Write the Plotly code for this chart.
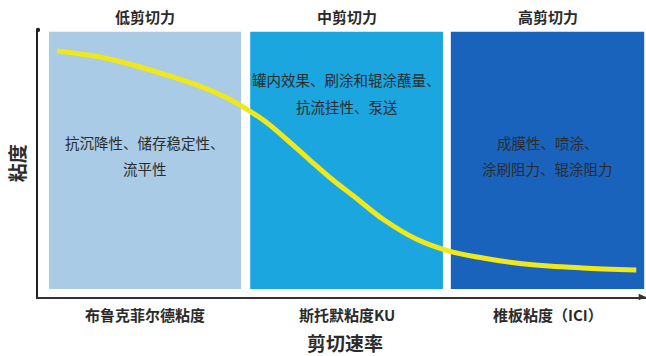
import plotly.graph_objects as go

# Shear-rate zones (x in relative shear-rate units 0-100)
zone_names = ["低剪切力", "中剪切力", "高剪切力"]
zone_start = [1.8, 34.9, 67.9]
zone_end = [33.4, 66.6, 99.7]
zone_colors = ["#a9cbe6", "#1ca6e0", "#1a63bd"]
zone_methods = ["布鲁克菲尔德粘度", "斯托默粘度KU", "椎板粘度（ICI）"]
zone_props_line1 = ["抗沉降性、储存稳定性、", "罐内效果、刷涂和辊涂蘸量、", "成膜性、喷涂、"]
zone_props_line2 = ["流平性", "抗流挂性、泵送", "涂刷阻力、辊涂阻力"]

# Viscosity curve (relative units 0-100)
shear_rate = [3.1, 10.2, 15.6, 21.2, 26.6, 30.8, 33.7, 37.7, 41.0, 44.7, 48.5,
              52.3, 56.7, 62.2, 67.6, 73.2, 78.6, 84.0, 89.6, 98.4]
viscosity = [92.1, 89.9, 86.9, 83.1, 79.0, 74.9, 71.2, 65.2, 58.8, 51.3, 43.8,
             37.1, 29.2, 21.7, 17.2, 14.6, 12.7, 11.6, 10.9, 10.1]

FONT = "Noto Sans CJK SC"
TXT = "#2b2b2b"

fig = go.Figure()

shapes = []
for s, e, c in zip(zone_start, zone_end, zone_colors):
    shapes.append(dict(type="rect", xref="x", yref="y", x0=s, x1=e, y0=3.0, y1=99.3,
                       fillcolor=c, line=dict(width=0), layer="below"))

fig.add_trace(go.Scatter(x=shear_rate, y=viscosity, mode="lines",
                         line=dict(color="#f0e81a", width=5, shape="spline", smoothing=1.0),
                         hoverinfo="skip", showlegend=False))

annotations = []
for i, name in enumerate(zone_names):
    cx = (zone_start[i] + zone_end[i]) / 2
    annotations.append(dict(text="<b>" + name + "</b>", x=cx, y=1.052, xref="x", yref="paper",
                            showarrow=False, font=dict(family=FONT, size=15, color=TXT),
                            xanchor="center", yanchor="middle"))
    annotations.append(dict(text="<b>" + zone_methods[i] + "</b>", x=cx, y=-0.064, xref="x", yref="paper",
                            showarrow=False, font=dict(family=FONT, size=15, color=TXT),
                            xanchor="center", yanchor="middle"))

prop_y1 = [0.577, 0.813, 0.577]
prop_y2 = [0.483, 0.715, 0.483]
for i in range(3):
    cx = (zone_start[i] + zone_end[i]) / 2
    annotations.append(dict(text=zone_props_line1[i], x=cx, y=prop_y1[i], xref="x", yref="paper",
                            showarrow=False, font=dict(family=FONT, size=14.5, color=TXT),
                            xanchor="center", yanchor="middle"))
    annotations.append(dict(text=zone_props_line2[i], x=cx, y=prop_y2[i], xref="x", yref="paper",
                            showarrow=False, font=dict(family=FONT, size=14.5, color=TXT),
                            xanchor="center", yanchor="middle"))

annotations.append(dict(text="<b>剪切速率</b>", x=0.505, y=-0.17, xref="paper", yref="paper",
                        showarrow=False, font=dict(family=FONT, size=19, color=TXT),
                        xanchor="center", yanchor="middle"))
annotations.append(dict(text="<b>粘度</b>", x=-0.035, y=0.50, xref="paper", yref="paper",
                        showarrow=False, textangle=-90, font=dict(family=FONT, size=19, color=TXT),
                        xanchor="center", yanchor="middle"))

# axis decorations: dot at top of y-axis, arrow at right of x-axis
shapes.append(dict(type="circle", xref="paper", yref="paper", x0=-0.0035, x1=0.0035,
                   y0=1.0 - 0.008, y1=1.0 + 0.008, fillcolor="#222", line=dict(width=0)))
shapes.append(dict(type="path", xref="paper", yref="paper",
                   path="M 0.988 0.012 L 1.0 0 L 0.988 -0.012 Z", fillcolor="#333", line=dict(width=0)))

fig.update_layout(
    width=646, height=356,
    margin=dict(l=38, r=0, t=30, b=59),
    paper_bgcolor="white", plot_bgcolor="white",
    shapes=shapes, annotations=annotations,
    xaxis=dict(range=[0, 100], showgrid=False, zeroline=False, showticklabels=False, ticks="",
               showline=True, linecolor="#333", linewidth=2, fixedrange=True),
    yaxis=dict(range=[0, 100], showgrid=False, zeroline=False, showticklabels=False, ticks="",
               showline=True, linecolor="#222", linewidth=2, fixedrange=True),
    font=dict(family=FONT),
)

# remove the default 8px body margin so the figure sits at the page's top-left corner
fig.write_html("out.html", config={"displayModeBar": False},
               post_script="document.body.style.margin='0';document.body.style.overflow='hidden';")
